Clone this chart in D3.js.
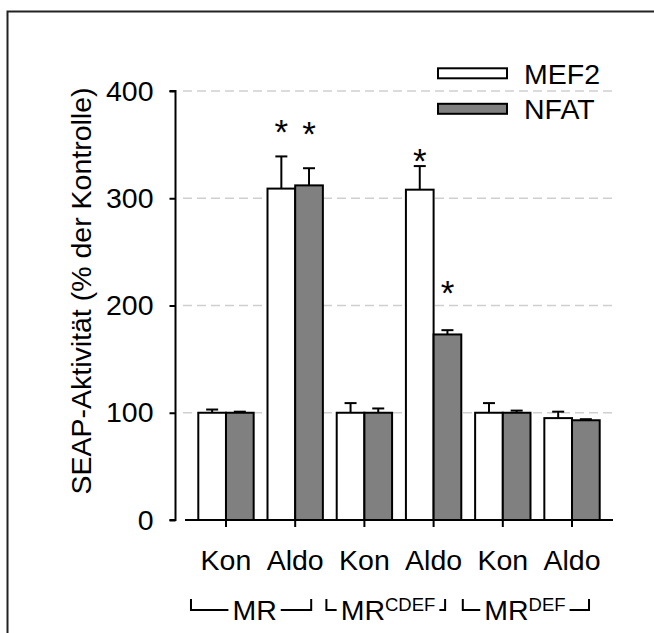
<!DOCTYPE html>
<html>
<head>
<meta charset="utf-8">
<script src="https://cdn.jsdelivr.net/npm/d3@7"></script>
<style>
  html, body { margin: 0; padding: 0; background: #fff; }
  svg { display: block; }
  text { font-family: Arial, "Liberation Sans", sans-serif; fill: #000; }
</style>
</head>
<body>
<script>
// Treatments along the x axis and the receptor constructs they belong to
const treatments = ["Kon", "Aldo", "Kon", "Aldo", "Kon", "Aldo"];
const constructs = [
  { name: "MR", sup: "", first: 0, last: 1 },
  { name: "MR", sup: "CDEF", first: 2, last: 3 },
  { name: "MR", sup: "DEF", first: 4, last: 5 }
];
const seriesNames = ["MEF2", "NFAT"];

// SEAP activity (% of control), mean and upper error bound
const mef2Mean = [100, 309, 100, 308, 100, 95];
const mef2Upper = [103, 339, 109, 330, 109, 101];
const nfatMean = [100, 312, 100, 173, 100, 93];
const nfatUpper = [101, 328, 104, 177, 102, 94];

// Height (in % units) at which the significance asterisks sit; null = none
const mef2Star = [null, 369, null, 342, null, null];
const nfatStar = [null, 367, null, 219, null, null];

const yTicks = [0, 100, 200, 300, 400];
const gridTicks = [100, 200, 300, 400];

const W = 654, H = 633;
const svg = d3.select("body").append("svg").attr("width", W).attr("height", H);

const series = [
  { name: "MEF2", mean: mef2Mean, upper: mef2Upper, star: mef2Star, fill: "#ffffff" },
  { name: "NFAT", mean: nfatMean, upper: nfatUpper, star: nfatStar, fill: "#808080" }
];

// frame
svg.append("path")
  .attr("d", `M7.5,${H} V11.5 H${W}`)
  .attr("fill", "none").attr("stroke", "#222").attr("stroke-width", 2);

const y = d3.scaleLinear().domain([0, 400]).range([520, 91]);
const xGroup = d3.scaleBand().domain(d3.range(treatments.length))
  .range([198.3, 599.7]).paddingInner(0.2).paddingOuter(0);
const xSeries = d3.scaleBand().domain(seriesNames).range([0, xGroup.bandwidth()]).padding(0);
const gc = i => xGroup(i) + xGroup.bandwidth() / 2;

const FS = 28.5;

// dashed gridlines
svg.append("g").selectAll("line").data(gridTicks).join("line")
  .attr("x1", 183).attr("x2", 612)
  .attr("y1", d => y(d)).attr("y2", d => y(d))
  .attr("stroke", "#cfcfcf").attr("stroke-width", 1.5)
  .attr("stroke-dasharray", "9,5");

// y axis
const yAxis = d3.axisLeft(y).tickValues(yTicks).tickSize(6).tickPadding(16);
const gy = svg.append("g").attr("transform", "translate(175.5,0)").call(yAxis);
gy.select(".domain").attr("d", `M-6,${y(400)}H0V${y(0)}H-6`).attr("stroke", "#000").attr("stroke-width", 2);
gy.selectAll(".tick line").attr("stroke", "#000").attr("stroke-width", 2);
gy.selectAll(".tick text").attr("font-size", FS).attr("font-family", "Arial, 'Liberation Sans', sans-serif").attr("fill", "#000");

// y axis title
svg.append("text")
  .attr("transform", `translate(91,291) rotate(-90)`)
  .attr("text-anchor", "middle").attr("font-size", FS)
  .text("SEAP-Aktivität (% der Kontrolle)");

// x axis
const gx = svg.append("g").attr("transform", `translate(0,${y(0)})`);
gx.append("line").attr("x1", 185).attr("x2", 613).attr("stroke", "#000").attr("stroke-width", 2);

// bars
const groups = svg.append("g").selectAll("g").data(series).join("g");
groups.selectAll("rect").data(s => s.mean.map((v, i) => ({ s, v, i }))).join("rect")
  .attr("x", d => xGroup(d.i) + xSeries(d.s.name))
  .attr("width", xSeries.bandwidth())
  .attr("y", d => y(d.v))
  .attr("height", d => y(0) - y(d.v))
  .attr("fill", d => d.s.fill)
  .attr("stroke", "#000").attr("stroke-width", 2);

// upper error bars
const errG = svg.append("g").attr("stroke", "#000").attr("stroke-width", 2);
series.forEach(s => {
  s.upper.forEach((u, i) => {
    const cx = xGroup(i) + xSeries(s.name) + xSeries.bandwidth() / 2;
    errG.append("line").attr("x1", cx).attr("x2", cx).attr("y1", y(s.mean[i])).attr("y2", y(u));
    errG.append("line").attr("x1", cx - 6).attr("x2", cx + 6).attr("y1", y(u)).attr("y2", y(u));
  });
});

// ticks on x axis between paired bars
gx.selectAll("line.tk").data(treatments).join("line").attr("class", "tk")
  .attr("x1", (d, i) => gc(i)).attr("x2", (d, i) => gc(i))
  .attr("y1", 0).attr("y2", 7).attr("stroke", "#000").attr("stroke-width", 2);

// significance asterisks
const STAR = 35;
series.forEach(s => {
  s.star.forEach((v, i) => {
    if (v == null) return;
    const cx = xGroup(i) + xSeries(s.name) + xSeries.bandwidth() / 2;
    svg.append("text").attr("x", cx).attr("y", y(v) + STAR * 0.57)
      .attr("text-anchor", "middle").attr("font-size", STAR).text("*");
  });
});

// treatment labels
svg.append("g").selectAll("text").data(treatments).join("text")
  .attr("x", (d, i) => gc(i)).attr("y", 570)
  .attr("text-anchor", "middle").attr("font-size", FS).text(d => d);

// construct brackets
const bracketLayout = [
  { left: -35, right: 16, shift: -6 },
  { left: -38, right: 11.5, shift: -11 },
  { left: -40, right: 17, shift: -12.5 }
];
const bY = 610, bTop = 599;
constructs.forEach((c, k) => {
  const L = gc(c.first) + bracketLayout[k].left;
  const R = gc(c.last) + bracketLayout[k].right;
  const mid = (gc(c.first) + gc(c.last)) / 2 + bracketLayout[k].shift;
  const t = svg.append("text").attr("y", 620).attr("font-size", FS);
  t.append("tspan").text(c.name);
  if (c.sup) t.append("tspan").attr("font-size", 18.5).attr("dy", -9).text(c.sup);
  const w = t.node().getComputedTextLength();
  t.attr("x", mid - w / 2);
  const tx0 = mid - w / 2 - 4, tx1 = mid + w / 2 + 4;
  svg.append("path")
    .attr("d", `M${L},${bTop}V${bY}H${tx0}M${tx1},${bY}H${R}V${bTop}`)
    .attr("fill", "none").attr("stroke", "#000").attr("stroke-width", 2);
});

// legend
const legend = svg.append("g");
series.forEach((s, k) => {
  const cy = 73.3 + k * 35.5;
  legend.append("rect").attr("x", 438).attr("y", cy - 5).attr("width", 69).attr("height", 10)
    .attr("fill", s.fill).attr("stroke", "#000").attr("stroke-width", 2);
  legend.append("text").attr("x", 524).attr("y", cy + FS * 0.36)
    .attr("font-size", FS).text(s.name);
});
</script>
</body>
</html>
